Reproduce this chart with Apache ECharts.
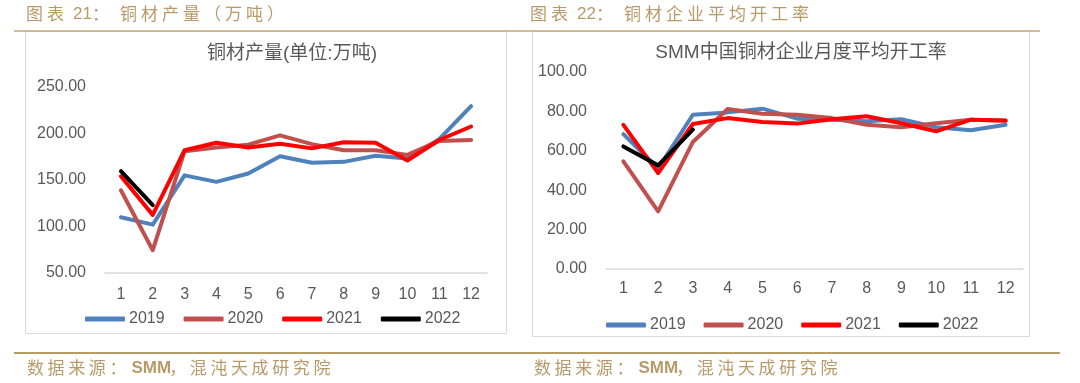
<!DOCTYPE html>
<html>
<head>
<meta charset="utf-8">
<script src="https://cdn.jsdelivr.net/npm/echarts@6/dist/echarts.min.js"></script>
<style>
html,body{margin:0;padding:0;background:#fff;}
#c{width:1080px;height:383px;}
</style>
</head>
<body>
<div id="c"></div>
<script>
const months = ['1','2','3','4','5','6','7','8','9','10','11','12'];
const years = ['2019','2020','2021','2022'];
const colors = ['#4F81BD','#C0504D','#FF0000','#000000'];

// 铜材产量（万吨）
const output2019 = [110, 102, 155, 148, 157, 175.5, 168.5, 169.5, 176, 173, 194, 229.5];
const output2020 = [139, 74.5, 181, 185, 188, 198, 188.5, 182, 182, 177, 192, 193];
const output2021 = [154, 112.5, 182, 190, 185, 189, 184, 190.5, 190, 171, 193, 207.5];
const output2022 = [159.5, 123];

// SMM 铜材企业月度平均开工率
const rate2019 = [68.5, 51, 78.3, 79.5, 81.4, 76.3, 75.8, 75, 76, 72, 70.4, 73.2];
const rate2020 = [54.6, 29.2, 64.5, 81.2, 78.8, 78.3, 76.6, 73.2, 72, 74, 75.8, 75.3];
const rate2021 = [73.2, 48.7, 73.6, 76.6, 74.6, 73.8, 76, 77.5, 74, 69.9, 75.8, 75.4];
const rate2022 = [62.2, 52.6, 70.7];

const leftTicks = {min: 50, max: 250, interval: 50};
const rightTicks = {min: 0, max: 100, interval: 20};

const headerLeft = '图表 21：铜材产量（万吨）';
const headerRight = '图表 22：铜材企业平均开工率';
const sourceText = '数据来源：SMM，混沌天成研究院';

const chart = echarts.init(document.getElementById('c'));
const gold = '#B79A68';
const gray = '#595959';
const font = 'Liberation Sans, Arial, "Noto Sans CJK SC", sans-serif';
const cjkFont = '"Noto Sans CJK SC", sans-serif';

// place text with wide (letter-spaced) CJK pitch, as in the reference
function spacedText(str, x0, top, fontSize, cjkAdv, colonAdv, asciiFont, asciiAdv) {
  const out = [];
  let x = x0;
  const tokens = str.match(/[A-Za-z0-9]+|./g);
  tokens.forEach(t => {
    const ascii = /^[A-Za-z0-9 ]+$/.test(t);
    out.push({type: 'text', left: x, top: ascii ? top + 1 : top, z: 3,
      style: {text: t, fill: gold, fontSize: fontSize,
        fontFamily: ascii ? asciiFont : cjkFont,
        fontWeight: ascii && asciiFont.indexOf('Narrow') >= 0 ? 'bold' : 'normal'}});
    if (t === ' ') x += 5;
    else if (ascii) x += t.length * asciiAdv;
    else if (t === '：') x += colonAdv;
    else x += cjkAdv;
  });
  return out;
}

function mkSeries(name, data, idx, axisIdx, z) {
  return {
    name: name, type: 'line', data: data,
    xAxisIndex: axisIdx, yAxisIndex: axisIdx,
    symbol: 'none', smooth: false, z: z,
    lineStyle: {color: colors[idx], width: 4, cap: 'round', join: 'round'},
    itemStyle: {color: colors[idx]},
    emphasis: {disabled: true}
  };
}

const leftData = [output2019, output2020, output2021, output2022];
const rightData = [rate2019, rate2020, rate2021, rate2022];
const series = [];
years.forEach((y, i) => series.push(mkSeries(y, leftData[i], i, 0, 2 + i)));
years.forEach((y, i) => series.push(mkSeries(y, rightData[i], i, 1, 2 + i)));

function xAxisCfg(gi, margin) {
  return {
    type: 'category', data: months, gridIndex: gi, boundaryGap: true,
    axisLine: {show: true, lineStyle: {color: '#D9D9D9', width: 1.5}},
    axisTick: {show: false},
    axisLabel: {color: gray, fontSize: 16, fontFamily: font, margin: margin},
    splitLine: {show: false}
  };
}
function yAxisCfg(gi, t) {
  return {
    type: 'value', gridIndex: gi, min: t.min, max: t.max, interval: t.interval,
    axisLine: {show: false}, axisTick: {show: false},
    splitLine: {show: false},
    axisLabel: {color: gray, fontSize: 16, fontFamily: font, margin: 19,
      formatter: v => v.toFixed(2)}
  };
}

const graphics = [
  {type: 'rect', shape: {x: 25.5, y: 31.5, width: 481, height: 302}, z: 0,
   style: {fill: 'none', stroke: '#D9D9D9', lineWidth: 1}},
  {type: 'rect', shape: {x: 532.5, y: 31.5, width: 497, height: 305}, z: 0,
   style: {fill: 'none', stroke: '#D9D9D9', lineWidth: 1}},
  {type: 'line', shape: {x1: 14, y1: 31, x2: 1040, y2: 31}, z: 1,
   style: {stroke: '#C3A677', lineWidth: 1.5}},
  {type: 'line', shape: {x1: 14, y1: 353, x2: 1060, y2: 353}, z: 1,
   style: {stroke: '#B99B68', lineWidth: 2}}
].concat(
  spacedText(headerLeft, 26, 5, 17, 21, 28, font, 9.5),
  spacedText(headerRight, 530, 5, 17, 21, 28, font, 9.5),
  spacedText(sourceText, 27, 359, 17, 20.6, 22, '"Liberation Sans Narrow", Arial', 12.6),
  spacedText(sourceText, 534, 359, 17, 20.6, 22, '"Liberation Sans Narrow", Arial', 12.6)
);

chart.setOption({
  animation: false,
  backgroundColor: '#fff',
  color: colors,
  title: [
    {text: '铜材产量(单位:万吨)', left: 287, top: 39, textAlign: 'center',
     textStyle: {color: gray, fontSize: 19, fontWeight: 'normal', fontFamily: font}},
    {text: 'SMM中国铜材企业月度平均开工率', left: 796, top: 38, textAlign: 'center',
     textStyle: {color: gray, fontSize: 19, fontWeight: 'normal', fontFamily: font}}
  ],
  legend: [
    {data: years, left: 80, top: 306, icon: 'roundRect', itemWidth: 40, itemHeight: 5,
     itemGap: 19, textStyle: {color: gray, fontSize: 16, fontFamily: font, padding: [0,0,0,-1]},
     selectedMode: false},
    {data: years, left: 601, top: 312, icon: 'roundRect', itemWidth: 40, itemHeight: 5,
     itemGap: 18, textStyle: {color: gray, fontSize: 16, fontFamily: font, padding: [0,0,0,-1]},
     selectedMode: false}
  ],
  grid: [
    {left: 105, top: 87, width: 382, height: 186},
    {left: 606, top: 72, width: 417, height: 197}
  ],
  xAxis: [xAxisCfg(0, 14), xAxisCfg(1, 12)],
  yAxis: [yAxisCfg(0, leftTicks), yAxisCfg(1, rightTicks)],
  series: series,
  graphic: graphics
});
</script>
</body>
</html>
